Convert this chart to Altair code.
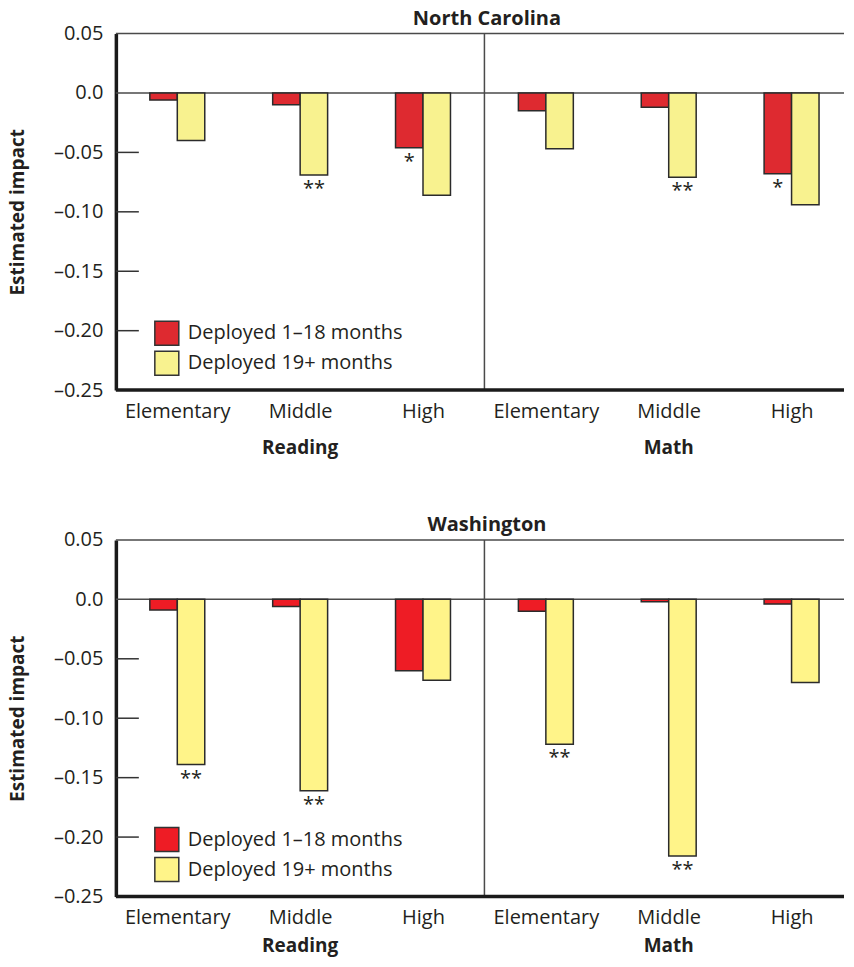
import json
import altair as alt
import pandas as pd

# ---------------- data ----------------
subjects = ["Reading", "Reading", "Reading", "Math", "Math", "Math"]
levels = ["Elementary", "Middle", "High", "Elementary", "Middle", "High"]
series = ["Deployed 1\u201318 months", "Deployed 19+ months"]

nc_short = [-0.006, -0.010, -0.046, -0.015, -0.012, -0.068]
nc_long = [-0.040, -0.069, -0.086, -0.047, -0.071, -0.094]
nc_sig_short = ["", "", "*", "", "", "*"]
nc_sig_long = ["", "**", "", "", "**", ""]

wa_short = [-0.009, -0.006, -0.060, -0.010, -0.002, -0.004]
wa_long = [-0.139, -0.161, -0.068, -0.122, -0.216, -0.070]
wa_sig_short = ["", "", "", "", "", ""]
wa_sig_long = ["**", "**", "", "**", "**", ""]

y_values = [0.05, 0.0, -0.05, -0.10, -0.15, -0.20, -0.25]
inner_ticks = [-0.05, -0.10, -0.15, -0.20]
frame_lines = [0.05, 0.0]
base_line = [-0.25]
subject_names = ["Reading", "Math"]

# ---------------- layout / style ----------------
W, H = 729, 357      # plot box; page is only 854 px wide
STEP = 123           # px per school-level group
BAR = 27.5 / STEP    # bar width as a fraction of a group
FONT = "Open Sans"
INK = "#231f20"

group_idx = list(range(len(levels)))
x_domain = [-0.5, W / STEP - 0.5]
level_js = json.dumps(levels)


def panel(title, short, long, sig_s, sig_l, colors, subj_dy):
    rows = []
    for i, v1, v2, a1, a2 in zip(group_idx, short, long, sig_s, sig_l):
        rows.append(dict(x0=i - BAR, x1=i, xc=i - BAR / 2, series=series[0], value=v1, sig=a1))
        rows.append(dict(x0=i, x1=i + BAR, xc=i + BAR / 2, series=series[1], value=v2, sig=a2))
    df = pd.DataFrame(rows)

    xscale = alt.Scale(domain=x_domain, nice=False, zero=False)
    yscale = alt.Scale(domain=[-0.25, 0.05], nice=False, zero=False)
    xaxis = alt.Axis(
        title=None, values=group_idx, labelExpr=f"{level_js}[datum.value]",
        ticks=False, labelAngle=0, labelFontSize=20, labelPadding=11,
        labelColor=INK, labelFlush=False, labelOverlap=False, domain=False, grid=False,
    )
    yaxis = alt.Axis(
        title="Estimated impact", values=y_values, ticks=False, grid=False,
        labelExpr="datum.value == 0 ? '0.0' : (datum.value < 0 ? '\u2013' + format(-datum.value, '.2f') : format(datum.value, '.2f'))",
        labelFontSize=20, labelPadding=13, labelColor=INK,
        titleFontSize=19, titleFontWeight="bold", titleColor=INK, titlePadding=26,
        domainColor="#1a1a1a", domainWidth=3.5,
    )
    X = lambda f: alt.X(f"{f}:Q", scale=xscale, axis=xaxis)
    Y = lambda: alt.Y("value:Q", scale=yscale, axis=yaxis)

    frame = alt.Chart(pd.DataFrame({"value": frame_lines})).mark_rule(
        color="#4a4a4a", strokeWidth=1.5
    ).encode(y=Y())

    base = alt.Chart(pd.DataFrame({"value": base_line})).mark_rule(
        color="#1a1a1a", strokeWidth=3.5
    ).encode(y=Y())

    # boundary between the Reading and Math groups
    sep = alt.Chart(pd.DataFrame({"xs": [(group_idx[2] + group_idx[3]) / 2]})).mark_rule(
        color="#4a4a4a", strokeWidth=1.5
    ).encode(x=X("xs"))

    ticks = alt.Chart(pd.DataFrame({"value": inner_ticks})).mark_rule(
        color="#333333", strokeWidth=1.5
    ).encode(y=Y(), x=alt.value(0), x2=alt.value(23))

    bars = alt.Chart(df).mark_bar(stroke="#2b2b2b", strokeWidth=1.5).encode(
        x=X("x0"), x2="x1", y=Y(), y2=alt.datum(0),
        color=alt.Color(
            "series:N", scale=alt.Scale(domain=series, range=colors),
            legend=alt.Legend(
                title=None, orient="none", legendX=38, legendY=287, padding=0,
                symbolType="square", symbolSize=576, symbolStrokeColor="#333333",
                symbolStrokeWidth=1.5, symbolOpacity=1, labelFontSize=20,
                labelOffset=8, rowPadding=0, labelColor=INK, labelFont=FONT,
                labelLimit=0,
            ),
        ),
    )

    stars = alt.Chart(df).mark_text(
        baseline="top", dy=4, fontSize=20, color=INK, font=FONT
    ).encode(x=X("xc"), y=Y(), text="sig:N")

    subj = alt.Chart(pd.DataFrame({"xm": [group_idx[1], group_idx[4]], "name": subject_names})).mark_text(
        fontSize=19, fontWeight="bold", color=INK, font=FONT, baseline="alphabetic"
    ).encode(x=X("xm"), y=alt.value(H + subj_dy), text="name:N")

    return alt.layer(frame, sep, ticks, bars, base, stars, subj).properties(
        width=W, height=H,
        title=alt.TitleParams(
            text=title, fontSize=20, fontWeight="bold", color=INK, font=FONT,
            anchor="middle", frame="group", dx=7, offset=-5,
        ),
    )


top = panel("North Carolina", nc_short, nc_long, nc_sig_short, nc_sig_long,
            ["#de2a30", "#f8f28f"], 64)
bottom = panel("Washington", wa_short, wa_long, wa_sig_short, wa_sig_long,
               ["#ee1c25", "#fff489"], 56)

chart = alt.vconcat(top, bottom, spacing=57).resolve_scale(
    color="independent"
).resolve_legend(color="independent").configure(
    font=FONT, padding=0, background="white"
).configure_view(stroke=None)

chart.save("out.html", embed_options={"renderer": "svg", "actions": False})
